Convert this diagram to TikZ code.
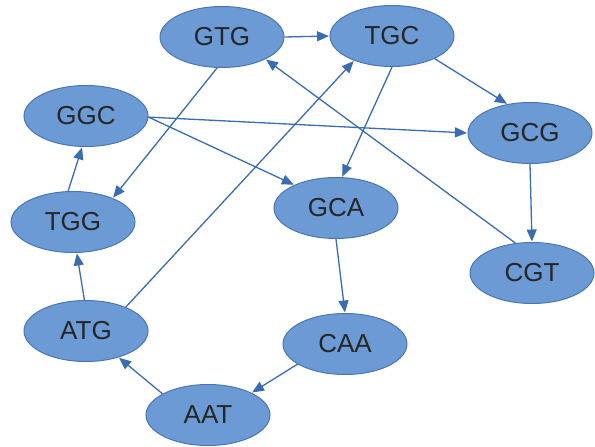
\documentclass[tikz,border=0pt]{standalone}
\usepackage{fontspec}
\setmainfont{Liberation Sans}
\usetikzlibrary{shapes.geometric,arrows.meta}
\definecolor{nodefill}{RGB}{108,154,212}
\definecolor{nodeline}{RGB}{72,118,180}
\definecolor{edgecol}{RGB}{58,108,178}
\tikzset{
  kmer/.style={ellipse, draw=nodeline, line width=1pt, fill=nodefill,
    minimum width=124pt, minimum height=61pt, inner sep=0pt,
    font=\fontsize{26pt}{26pt}\selectfont, text=black!85},
  link/.style={draw=edgecol, line width=1.3pt,
    -{Triangle[length=12pt,width=10pt]}, shorten >=0.5pt}
}
\begin{document}
\begin{tikzpicture}[x=1pt,y=-1pt]
\useasboundingbox (0,0) rectangle (595,447);
% k-mer nodes
\node[kmer] (GTG) at (222,37)  {GTG};
\node[kmer] (TGC) at (392,36)  {TGC};
\node[kmer] (GGC) at (86,116)  {GGC};
\node[kmer] (GCG) at (530,133) {GCG};
\node[kmer] (TGG) at (73,222)  {TGG};
\node[kmer] (GCA) at (336,208) {GCA};
\node[kmer] (CGT) at (532,273) {CGT};
\node[kmer] (ATG) at (86,331)  {ATG};
\node[kmer] (CAA) at (345,344) {CAA};
\node[kmer] (AAT) at (208,415) {AAT};
% overlap edges
\draw[link] (GTG.0)    -- (TGC.180);
\draw[link] (GTG.-99)  -- (TGG.31);
\draw[link] (CGT.119)  -- (GTG.-27);
\draw[link] (GGC.-1)   -- (GCG.180);
\draw[link] (GGC.-1)   -- (GCA.151);
\draw[link] (TGG.99)   -- (GGC.-97);
\draw[link] (ATG.93)   -- (TGG.-83);
\draw[link] (ATG.31)   -- (TGC.-147);
\draw[link] (TGC.-90)  -- (GCA.79);
\draw[link] (TGC.-28)  -- (GCG.128);
\draw[link] (GCG.-90)  -- (CGT.90);
\draw[link] (GCA.-90)  -- (CAA.90);
\draw[link] (CAA.-157) -- (AAT.27);
\draw[link] (AAT.155)  -- (ATG.-39);
\end{tikzpicture}
\end{document}
